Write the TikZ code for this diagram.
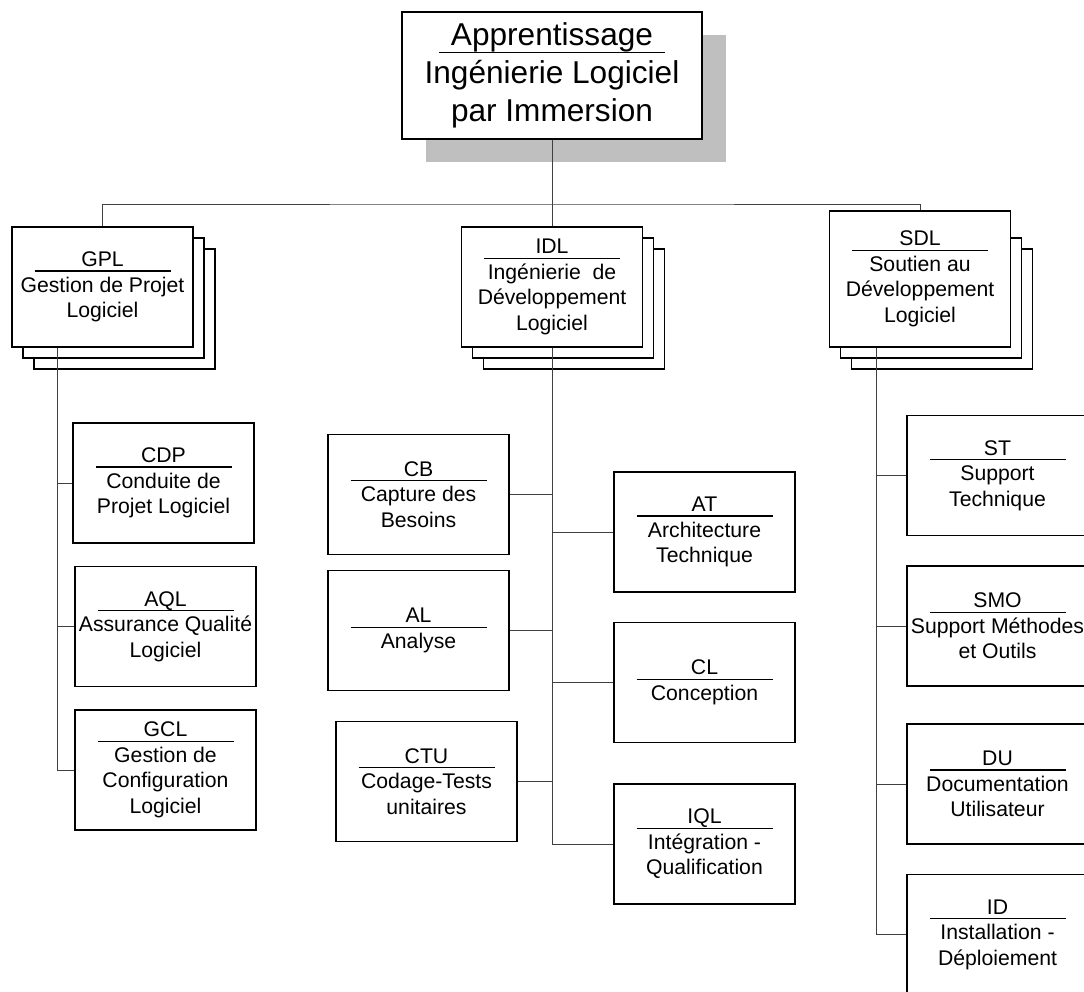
\documentclass[tikz,border=0pt]{standalone}
\usepackage{fontspec}
\setmainfont{Liberation Sans}
\usetikzlibrary{shadows}
% title line with a rule under it
\newcommand{\hd}[2][136pt]{\makebox[#1]{#2}\llap{\rule[-0.24em]{#1}{1.3pt}}}

\begin{document}
\begin{tikzpicture}[x=1pt,y=-1pt,
    unit/.style={draw, fill=white, line width=1.3pt, minimum width=181, minimum height=120,
      inner sep=0pt, align=center, font=\fontsize{21.2}{25.5}\selectfont},
    link/.style={line width=0.9pt, black!75}]
			%%%%% START %%%%%
			\def\yr{287}
			\clip (0,0) rectangle (1084,992);

			\node[unit, minimum width=300, minimum height=127, font=\fontsize{31.6}{38}\selectfont,
			  drop shadow={shadow xshift=24pt, shadow yshift=-23pt, fill=black!25, opacity=1}]
			  (top) at (552,75.5) {\hd[226pt]{Apprentissage}\\Ingénierie Logiciel\\par Immersion};

			% piles behind the three domains
			\foreach \cx in {102.5,552,920}
			  \foreach \d in {22,11}
			    \node[unit] at (\cx+\d,\yr+\d) {};

			\node[unit] (gpl) at (102.5,\yr) {\hd{GPL}\\Gestion de Projet\\Logiciel};
			\node[unit] (idl) at (552,\yr) {\hd{IDL}\\Ingénierie\ \ de\\Développement\\Logiciel};
			\node[unit, minimum height=136] (sdl) at (920,279) {\hd{SDL}\\Soutien au\\Développement\\Logiciel};

			\node[unit] (cdp) at (163.5,483) {\hd{CDP}\\Conduite de\\Projet Logiciel};
			\node[unit] (aql) at (165.5,626.5) {\hd{AQL}\\Assurance Qualité\\Logiciel};
			\node[unit] (gcl) at (165.5,770) {\hd{GCL}\\Gestion de\\Configuration\\Logiciel};

			\node[unit] (cb) at (418.5,494.5) {\hd{CB}\\Capture des\\Besoins};
			\node[unit] (al) at (418.5,630.5) {\hd{AL}\\Analyse};
			\node[unit] (ctu) at (426.5,781.5) {\hd{CTU}\\Codage-Tests\\unitaires};
			\node[unit] (atech) at (704.5,532) {\hd{AT}\\Architecture\\Technique};
			\node[unit] (cl) at (704.5,682.5) {\hd{CL}\\Conception};
			\node[unit] (iql) at (704.5,844) {\hd{IQL}\\Intégration -\\Qualification};

			\node[unit] (st) at (997.5,475.5) {\hd{ST}\\Support\\Technique};
			\node[unit] (smo) at (997.5,626) {\hd{SMO}\\Support Méthodes\\et Outils};
			\node[unit] (du) at (997.5,784) {\hd{DU}\\Documentation\\Utilisateur};
			\node[unit] (id) at (997.5,934.5) {\hd{ID}\\Installation -\\Déploiement};

			% links
			\coordinate (bar) at (552,204);
			\draw[link] (top) -- (idl);
			\draw[link] (gpl) |- (bar) -| (sdl);
			\foreach \n in {cdp,aql,gcl}
			  \draw[link] ([xshift=-45pt]gpl.south) |- (\n);
			\foreach \n in {cb,al,ctu,atech,cl,iql}
			  \draw[link] (idl) |- (\n);
			\foreach \n in {st,smo,du,id}
			  \draw[link] ([xshift=-44pt]sdl.south) |- (\n);
			%%%%% END %%%%%
\end{tikzpicture}
\end{document}
